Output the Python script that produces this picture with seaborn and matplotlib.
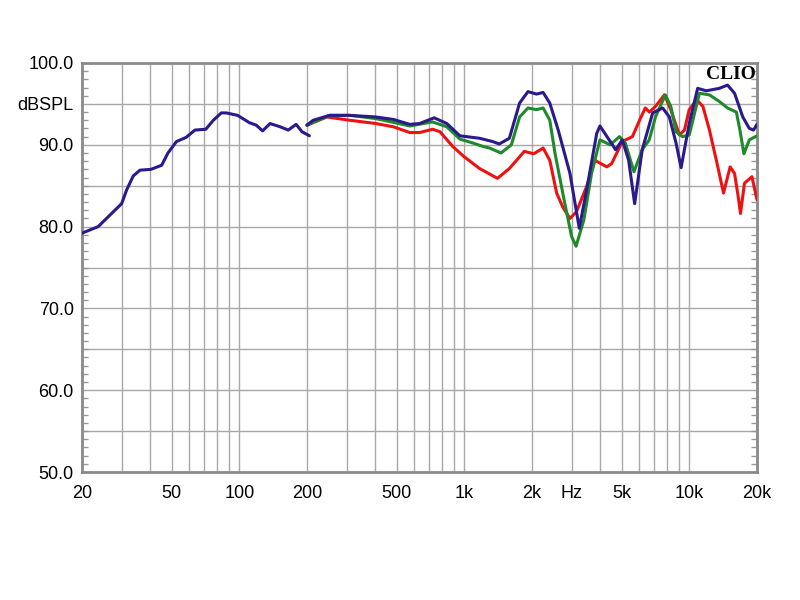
import matplotlib
matplotlib.use("Agg")
import matplotlib.pyplot as plt
import matplotlib.ticker as mticker
import seaborn as sns
import pandas as pd
import numpy as np

# ---- data (frequency in Hz, level in dB SPL) ----
low_freq = [20, 23.6, 26.6, 30, 31.6, 33.8, 36.2, 40.5, 45.2, 48.2, 52.6, 58, 63.5, 71,
            76.7, 83.2, 87.6, 98.3, 111, 119, 127, 137, 152, 165, 179, 190, 205]
low_db = [79.2, 80.0, 81.4, 82.8, 84.5, 86.2, 86.9, 87.0, 87.5, 89.0, 90.4, 90.9, 91.8, 91.9,
          93.0, 93.9, 93.9, 93.6, 92.7, 92.4, 91.7, 92.6, 92.2, 91.8, 92.5, 91.6, 91.1]

blue_freq = [200, 213, 252, 310, 405, 484, 573, 633, 735, 837, 956, 1169, 1336, 1430, 1587,
             1762, 1920, 2094, 2242, 2400, 2616, 2950, 3245, 3500, 3880, 4010, 4710, 5040,
             5380, 5720, 6180, 6880, 7620, 8160, 8740, 9200, 10000, 10900, 11900, 13600,
             14800, 15900, 17300, 18500, 19300, 20000]
blue_db = [92.4, 93.0, 93.6, 93.6, 93.4, 93.1, 92.5, 92.6, 93.3, 92.6, 91.1, 90.8, 90.4, 90.1,
           90.8, 95.1, 96.5, 96.2, 96.4, 95.1, 91.8, 86.5, 79.8, 84.5, 91.4, 92.3, 89.4, 90.6,
           88.1, 82.8, 89.4, 93.9, 94.5, 93.4, 90.2, 87.2, 92.6, 96.9, 96.6, 96.9,
           97.3, 96.3, 93.4, 92.0, 91.8, 92.5]

green_freq = [200, 252, 310, 405, 573, 722, 837, 956, 1098, 1211, 1296, 1457, 1620, 1762,
              1920, 2094, 2242, 2400, 2530, 2800, 3000, 3140, 3400, 3680, 4010, 4450, 4900,
              5200, 5680, 6180, 6640, 7080, 7830, 8280, 8740, 9330, 10000, 11100, 12300,
              13600, 14800, 16200, 16800, 17500, 18500, 20000]
green_db = [92.4, 93.6, 93.6, 93.2, 92.3, 92.8, 92.2, 90.7, 90.2, 89.8, 89.6, 89.0, 90.0, 93.4,
            94.5, 94.3, 94.5, 93.0, 89.0, 82.8, 78.8, 77.6, 80.8, 86.5, 90.6, 90.0, 91.0,
            90.2, 86.7, 89.4, 90.6, 93.4, 96.1, 94.7, 91.6, 91.0, 91.2, 96.3, 96.1,
            95.3, 94.5, 94.0, 91.8, 88.9, 90.6, 91.1]

red_freq = [200, 245, 310, 405, 484, 573, 633, 724, 780, 889, 993, 1170, 1405, 1587, 1850,
            2035, 2242, 2400, 2575, 2740, 2950, 3150, 3500, 3810, 4300, 4520, 5040, 5590,
            6060, 6380, 6650, 7080, 7760, 8280, 9040, 9520, 10000, 10800, 11500, 12300,
            13300, 14200, 15200, 15900, 16500, 16900, 17600, 19000, 20000]
red_db = [92.4, 93.4, 93.0, 92.6, 92.2, 91.5, 91.5, 91.9, 91.6, 89.8, 88.6, 87.1, 85.9, 87.1,
          89.2, 88.9, 89.6, 88.1, 84.1, 82.4, 81.0, 81.8, 84.9, 88.1, 87.3, 87.7, 90.4, 91.0,
          93.2, 94.5, 94.0, 94.7, 96.1, 94.3, 91.2, 91.8, 94.3, 95.5, 94.7, 91.8,
          87.7, 84.1, 87.3, 86.5, 83.7, 81.6, 85.3, 86.1, 83.3]

xtick_vals = [20, 50, 100, 200, 500, 1000, 2000, 3000, 5000, 10000, 20000]
xtick_labels = ["20", "50", "100", "200", "500", "1k", "2k", "Hz", "5k", "10k", "20k"]
ytick_vals = [50, 60, 70, 80, 90, 95, 100]
ytick_labels = ["50.0", "60.0", "70.0", "80.0", "90.0", "dBSPL", "100.0"]

# ---- build long-form table ----
frames = []
for name, f, d in [("low", low_freq, low_db), ("blue", blue_freq, blue_db),
                   ("green", green_freq, green_db), ("red", red_freq, red_db)]:
    frames.append(pd.DataFrame({"freq": f, "db": d, "series": name}))
df = pd.concat(frames, ignore_index=True)

palette = {"low": "#2a1a8c", "blue": "#2a1a8c", "green": "#1f8a2a", "red": "#ee1111"}

sns.set_theme(style="white")
plt.rcParams["font.family"] = ["Liberation Sans", "DejaVu Sans"]

fig = plt.figure(figsize=(8, 6), dpi=100)
ax = fig.add_axes([0.1025, 0.2133, 0.8437, 0.6817])
ax.set_xscale("log")
ax.set_xlim(20, 20000)
ax.set_ylim(50, 100)

# grid
ax.xaxis.set_major_locator(mticker.FixedLocator(xtick_vals))
ax.xaxis.set_minor_locator(mticker.LogLocator(base=10, subs=np.arange(1, 10)))
ax.xaxis.set_minor_formatter(mticker.NullFormatter())
for loc in mticker.LogLocator(base=10, subs=np.arange(1, 10)).tick_values(20, 20000):
    if 20 < loc < 20000:
        ax.axvline(loc, color="#a8a8a8", lw=1.0, zorder=0)
for yv in range(55, 100, 5):
    ax.axhline(yv, color="#a8a8a8", lw=1.0, zorder=0)

order = ["red", "green", "blue", "low"]
for s in order:
    sub = df[df.series == s]
    sns.lineplot(data=sub, x="freq", y="db", color=palette[s], lw=2.2, ax=ax,
                 sort=False, estimator=None, legend=False, zorder=3)

ax.set_xticks(xtick_vals)
ax.set_xticklabels(xtick_labels, fontsize=13)
ax.set_yticks(ytick_vals)
ax.set_yticklabels(ytick_labels, fontsize=13)
ax.yaxis.set_minor_locator(mticker.MultipleLocator(1))
ax.tick_params(axis="x", which="both", length=0, pad=9, colors="black")
ax.tick_params(axis="y", which="major", length=0, pad=6, colors="black")
ax.tick_params(axis="y", which="minor", length=4, direction="in", left=True, right=True,
               color="#999999")
ax.set_xlabel("")
ax.set_ylabel("")

for sp in ax.spines.values():
    sp.set_color("#8a8a8a")
    sp.set_linewidth(2.0)

ax.text(0.998, 0.992, "CLIO", transform=ax.transAxes, ha="right", va="top",
        fontsize=14, fontweight="bold", family=["Liberation Serif", "DejaVu Serif"],
        color="black", zorder=5)

fig.savefig("out.png", dpi=100, facecolor="white")
